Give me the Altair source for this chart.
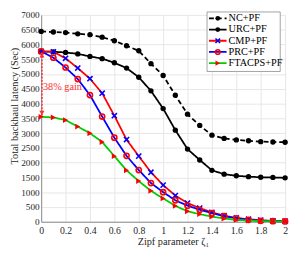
import altair as alt
import pandas as pd

# ---------------- data ----------------
zipf = [0.0, 0.1, 0.2, 0.3, 0.4, 0.5, 0.6, 0.7, 0.8, 0.9, 1.0,
        1.1, 1.2, 1.3, 1.4, 1.5, 1.6, 1.7, 1.8, 1.9, 2.0]
nc_pf = [6440, 6420, 6400, 6360, 6330, 6245, 6125, 5955, 5785, 5350, 4950,
         4280, 3640, 3260, 2930, 2820, 2770, 2740, 2710, 2700, 2690]
urc_pf = [5765, 5750, 5730, 5680, 5595, 5520, 5380, 5200, 4890, 4430, 3830,
          3100, 2460, 2090, 1740, 1610, 1555, 1525, 1505, 1500, 1485]
cmp_pf = [5765, 5750, 5530, 5200, 4840, 4350, 3590, 2780, 2220, 1675, 1240,
          885, 630, 460, 320, 205, 128, 86, 54, 32, 22]
prc_pf = [5765, 5550, 5220, 4830, 4285, 3560, 2845, 2230, 1750, 1310, 1000,
          725, 545, 405, 290, 190, 118, 65, 32, 20, 10]
ftacps_pf = [3550, 3530, 3440, 3220, 2995, 2700, 2220, 1740, 1375, 1045, 790,
             535, 355, 256, 173, 110, 64, 40, 25, 15, 10]

names = ["NC+PF", "URC+PF", "CMP+PF", "PRC+PF", "FTACPS+PF"]
values = [nc_pf, urc_pf, cmp_pf, prc_pf, ftacps_pf]
x_ticks = [0, 0.2, 0.4, 0.6, 0.8, 1, 1.2, 1.4, 1.6, 1.8, 2]
y_ticks = [0, 500, 1000, 1500, 2000, 2500, 3000, 3500, 4000, 4500, 5000,
           5500, 6000, 6500, 7000]
gain_label = "38% gain"

# ---------------- styles ----------------
X_PATH = "M-1,-1L1,1M-1,1L1,-1"
line_colors = ["#000000", "#000000", "#ff0000", "#0000ff", "#00cc00"]
marker_colors = ["#000000", "#000000", "#0000ff", "#ff0000", "#ff0000"]
shapes = ["circle", "circle", X_PATH, "circle", "triangle-right"]
filled = [True, True, False, False, True]
sizes = [30, 30, 28, 28, 36]
dashes = [[5, 3], [1, 0], [1, 0], [1, 0], [1, 0]]
FONT = "Liberation Serif"

x_enc = alt.X("x:Q", scale=alt.Scale(domain=[0, 2], nice=False),
              axis=alt.Axis(values=x_ticks, format="~g", title="Zipf parameter ζ₁",
                            labelFlush=False, labelOverlap=False, ticks=False,
                            tickSize=0, labelPadding=4, titleX=135, titleY=20,
                            titleBaseline="middle", titleAlign="center"))
y_enc = alt.Y("y:Q", scale=alt.Scale(domain=[0, 7000], nice=False),
              axis=alt.Axis(values=y_ticks, format="d", title="Total backhaul latency (Sec)",
                            labelOverlap=False, ticks=False, tickSize=0,
                            labelPadding=2, labelFontSize=9.5, titleX=-27, titleY=93,
                            titleBaseline="middle", titleAlign="center"))

layers = []
for i, name in enumerate(names):
    df = pd.DataFrame({"x": zipf, "y": values[i], "series": name})
    line = alt.Chart(df).mark_line(color=line_colors[i], strokeWidth=1.8,
                                   strokeDash=dashes[i]).encode(x=x_enc, y=y_enc)
    pts = alt.Chart(df).mark_point(shape=shapes[i], filled=filled[i],
                                   color=marker_colors[i], size=sizes[i],
                                   strokeWidth=1.6, opacity=1).encode(x=x_enc, y=y_enc)
    layers += [line, pts]

# ---------------- annotation: 38% gain arrow ----------------
arrow_df = pd.DataFrame({"x": [0.006], "y": [urc_pf[0] - 40], "y2": [ftacps_pf[0] + 40]})
arrow = alt.Chart(arrow_df).mark_rule(color="#ff3030", strokeWidth=1.6,
                                      strokeDash=[2, 1.5]).encode(
    x=x_enc, y=y_enc, y2="y2:Q")
head_df = pd.DataFrame({"x": [0.006, 0.006],
                        "y": [urc_pf[0] - 130, ftacps_pf[0] + 130]})
head_up = alt.Chart(head_df.iloc[[0]]).mark_point(shape="triangle-up", filled=True,
                                                  color="#ff3030", size=28, opacity=1).encode(x=x_enc, y=y_enc)
head_dn = alt.Chart(head_df.iloc[[1]]).mark_point(shape="triangle-down", filled=True,
                                                  color="#ff3030", size=28, opacity=1).encode(x=x_enc, y=y_enc)
gain_df = pd.DataFrame({"x": [0.015], "y": [4570], "t": [gain_label]})
gain = alt.Chart(gain_df).mark_text(align="left", baseline="middle", color="#ff3030",
                                    font=FONT, fontSize=10.5).encode(x=x_enc, y=y_enc, text="t:N")
layers += [arrow, head_up, head_dn, gain]

# ---------------- legend (manual) ----------------
box_df = pd.DataFrame({"k": [0]})
box = alt.Chart(box_df).mark_rect(fill="white", stroke="#8a8a8a", strokeWidth=0.8).encode(
    x=alt.value(170), x2=alt.value(245), y=alt.value(-3), y2=alt.value(58))
layers.append(box)
for i, name in enumerate(names):
    py = 3.5 + 11.5 * i
    ldf = pd.DataFrame({"name": [name]})
    lr = alt.Chart(ldf).mark_rule(color=line_colors[i], strokeWidth=1.8,
                                  strokeDash=dashes[i]).encode(
        x=alt.value(172), x2=alt.value(190), y=alt.value(py))
    lp = alt.Chart(ldf).mark_point(shape=shapes[i], filled=filled[i], color=marker_colors[i],
                                   size=sizes[i] * 0.8, strokeWidth=1.6, opacity=1).encode(
        x=alt.value(181), y=alt.value(py))
    lt = alt.Chart(ldf).mark_text(align="left", baseline="middle", font=FONT,
                                  fontSize=10.5, color="#000000").encode(
        x=alt.value(192), y=alt.value(py), text="name:N")
    layers += [lr, lp, lt]

chart = alt.layer(*layers).properties(
    width=250, height=212,
    padding={"left": 34, "top": 4, "right": 4, "bottom": 30},
    autosize=alt.AutoSizeParams(type="none"),
).configure_view(strokeWidth=0).configure_axis(
    labelFont=FONT, titleFont=FONT, labelFontSize=10, titleFontSize=10.5,
    labelColor="#262626", titleColor="#262626", titleFontWeight="normal",
    gridColor="#e6e6e6", gridWidth=1, domainColor="#8a8a8a", domainWidth=1,
)

chart.save("out.html", embed_options={"renderer": "svg", "actions": False})
